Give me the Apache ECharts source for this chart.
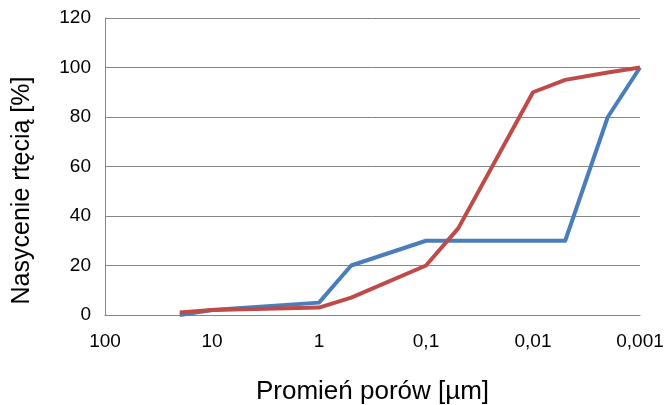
<!DOCTYPE html>
<html>
<head>
<meta charset="utf-8">
<script src="https://cdn.jsdelivr.net/npm/echarts@6/dist/echarts.min.js"></script>
<style>
  html, body { margin: 0; padding: 0; background: #fff; }
  #chart { width: 665px; height: 405px; }
</style>
</head>
<body>
<div id="chart"></div>
<script>
// promień porów [µm] (oś logarytmiczna, odwrócona)
var poreRadius = [20, 10, 1, 0.5, 0.1, 0.05, 0.01, 0.005, 0.002, 0.001];
// nasycenie rtęcią [%]
var blueSeries = [0, 2, 5, 20, 30, 30, 30, 30, 80, 100];
var redSeries = [1, 2, 3, 7, 20, 35, 90, 95, 98, 100];
var xTickLabels = ['100', '10', '1', '0,1', '0,01', '0,001'];
var yTicks = [0, 20, 40, 60, 80, 100, 120];

var font = '"Liberation Sans", Arial, sans-serif';

function pairs(xs, ys) {
    return xs.map(function (x, i) { return [x, ys[i]]; });
}

var chart = echarts.init(document.getElementById('chart'));
var option = {
    animation: false,
    grid: { left: 105, right: 25, top: 18, bottom: 90, outerBoundsMode: 'none' },
    xAxis: {
        type: 'log',
        logBase: 10,
        min: 0.001,
        max: 100,
        inverse: true,
        name: 'Promień porów [µm]',
        nameLocation: 'middle',
        nameGap: 64,
        nameTextStyle: { fontFamily: font, fontSize: 26, color: '#000' },
        axisLine: { lineStyle: { color: '#868686', width: 1 } },
        axisTick: { show: false },
        splitLine: { show: false },
        axisLabel: {
            margin: 17,
            fontFamily: font,
            fontSize: 19,
            color: '#000',
            formatter: function (v) {
                var idx = Math.round(2 - Math.log10(v));
                return xTickLabels[idx] !== undefined ? xTickLabels[idx] : '';
            }
        }
    },
    yAxis: {
        type: 'value',
        min: yTicks[0],
        max: yTicks[yTicks.length - 1],
        interval: 20,
        name: 'Nasycenie rtęcią [%]',
        nameLocation: 'middle',
        nameGap: 70,
        nameRotate: 90,
        nameTextStyle: { fontFamily: font, fontSize: 25, color: '#000', padding: [0, 48, 0, 0] },
        axisLine: { show: true, lineStyle: { color: '#868686', width: 1 } },
        axisTick: { show: false },
        splitLine: { lineStyle: { color: '#868686', width: 1 } },
        axisLabel: { margin: 14, fontFamily: font, fontSize: 19, color: '#000' }
    },
    series: [
        {
            type: 'line',
            data: pairs(poreRadius, blueSeries),
            showSymbol: false,
            lineStyle: { color: '#4a7ebb', width: 4, join: 'round' },
            itemStyle: { color: '#4a7ebb' }
        },
        {
            type: 'line',
            data: pairs(poreRadius, redSeries),
            showSymbol: false,
            lineStyle: { color: '#be4b48', width: 4, join: 'round' },
            itemStyle: { color: '#be4b48' }
        }
    ]
};
chart.setOption(option);
</script>
</body>
</html>
